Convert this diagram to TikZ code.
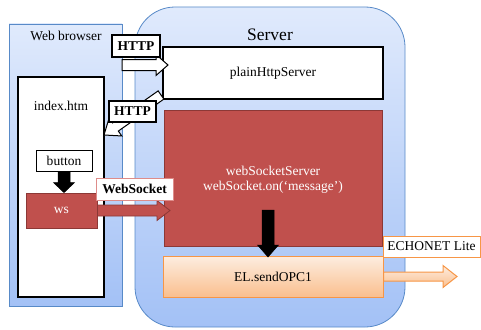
\documentclass[tikz,border=0pt]{standalone}
\usepackage{fontspec}
\setmainfont{Liberation Serif}
\usetikzlibrary{calc}

\definecolor{frameblue}{RGB}{88,138,200}
\definecolor{bluetop}{RGB}{224,234,252}
\definecolor{bluebot}{RGB}{163,193,246}
\definecolor{wsred}{RGB}{192,80,77}
\definecolor{wsredline}{RGB}{140,56,54}
\definecolor{orline}{RGB}{247,150,70}
\definecolor{ortop}{RGB}{253,237,224}
\definecolor{orbot}{RGB}{250,191,142}
\definecolor{pinkline}{RGB}{222,140,138}

% block arrow: style, tail, tip, body half width, head half width, head length
\newcommand\blockarrow[6]{%
  \coordinate (ba-h) at ($(#3)!#6!(#2)$);
  \draw[#1] ($(#2)!#4!90:(#3)$) -- ($(ba-h)!#4!90:(#3)$) -- ($(ba-h)!#5!90:(#3)$)
    -- (#3) -- ($(ba-h)!#5!-90:(#3)$) -- ($(ba-h)!#4!-90:(#3)$)
    -- ($(#2)!#4!-90:(#3)$) -- cycle;
}

\begin{document}
\begin{tikzpicture}[x=1pt,y=-1pt,
  txt/.style={font=\fontsize{13.5}{15}\selectfont, inner sep=0pt},
  bluebox/.style={draw=frameblue, line width=0.8pt, top color=bluetop, bottom color=bluebot, inner sep=0pt},
  whitebox/.style={draw=black, line width=1.3pt, fill=white, inner sep=0pt},
  redbox/.style={draw=wsredline, line width=0.8pt, fill=wsred, inner sep=0pt, text=white},
  orbox/.style={draw=orline, line width=1pt, top color=ortop, bottom color=orbot, inner sep=0pt},
  tagbox/.style={draw=black, line width=1.2pt, fill=white, inner sep=0pt,
    font=\bfseries\fontsize{13.5}{15}\selectfont},
  whitearrow/.style={draw=black, line width=1pt, fill=white, line join=miter},
  redarrow/.style={draw=wsredline, line width=0.8pt, fill=wsred},
  blackarrow/.style={draw=black, line width=0.5pt, fill=black},
  orarrow/.style={draw=orline, line width=1pt, top color=ortop, bottom color=orbot},
]
\useasboundingbox (0,0) rectangle (481,329);

% containers
\node[bluebox, minimum width=113pt, minimum height=282pt] (wb) at (65.5,165) {};
\node[txt] (wbt) at (66,36) {Web browser};
\node[bluebox, rounded corners=40pt, minimum width=270pt, minimum height=320pt] (srv) at (270,167) {};
\node[inner sep=0pt, font=\fontsize{17.5}{19}\selectfont] (srvt) at (270,35) {Server};

% server parts
\node[whitebox, minimum width=220pt, minimum height=52pt, txt] (plain) at (273,73) {plainHttpServer};
\node[redbox, minimum width=218pt, minimum height=136pt] (wss) at (273,178) {};
\node[txt, text=white, align=center] (wsst) at (273,180)
  {webSocketServer\\webSocket.on(‘message’)};
\node[orbox, minimum width=220pt, minimum height=41pt, txt] (el) at (273,276.5) {EL.sendOPC1};

% browser parts
\node[whitebox, minimum width=86pt, minimum height=220pt] (idx) at (61,187) {};
\node[txt] (idxt) at (61,106) {index.htm};
\node[whitebox, line width=1pt, minimum width=56pt, minimum height=21pt, txt] (btn) at (64,160.5) {button};
\node[redbox, minimum width=71pt, minimum height=35pt, txt] (ws) at (61.5,210.5) {ws};

% arrows
\coordinate (h1s) at (122,65);
\coordinate (h1t) at (168,65);
\blockarrow{whitearrow}{h1s}{h1t}{5.5pt}{10.5pt}{12pt}
\coordinate (h2s) at (161,95);
\coordinate (h2t) at (104,135);
\blockarrow{whitearrow}{h2s}{h2t}{5pt}{11pt}{14pt}
\coordinate (wsa) at (ws.east);
\coordinate (wsb) at (170,210.5);
\blockarrow{redarrow}{wsa}{wsb}{5.5pt}{10pt}{13pt}
\coordinate (b1s) at (btn.south);
\coordinate (b1t) at (btn.south |- ws.north);
\blockarrow{blackarrow}{b1s}{b1t}{6pt}{10.5pt}{10pt}
\coordinate (b2s) at (268,210);
\coordinate (b2t) at (268,257);
\blockarrow{blackarrow}{b2s}{b2t}{6pt}{10.5pt}{12pt}
\coordinate (eca) at (el.east);
\coordinate (ecb) at (457,276.5);
\blockarrow{orarrow}{eca}{ecb}{4.5pt}{11pt}{14pt}

% tags
\node[tagbox, minimum width=48pt, minimum height=22pt] (tag1) at (136,46) {HTTP};
\node[tagbox, minimum width=47pt, minimum height=21pt] (tag2) at (132.5,111.5) {HTTP};
\node[tagbox, draw=pinkline, line width=0.8pt, minimum width=77pt, minimum height=22pt] (tag3) at (134.5,189) {WebSocket};
\node[draw=orline, line width=1pt, fill=white, inner sep=0pt, txt, minimum width=97pt, minimum height=21pt] (tag4) at (431.5,246.5) {ECHONET Lite};
\end{tikzpicture}
\end{document}
